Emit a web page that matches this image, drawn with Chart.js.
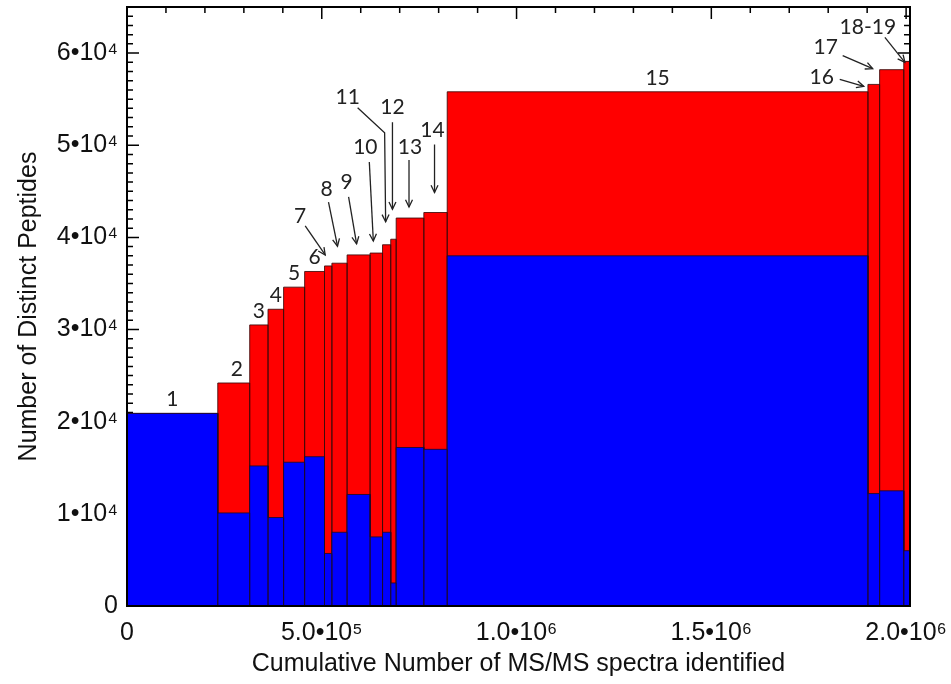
<!DOCTYPE html>
<html><head><meta charset="utf-8">
<script src="https://cdn.jsdelivr.net/npm/chart.js@4.4.0/dist/chart.umd.min.js"></script>
<style>html,body{margin:0;padding:0;background:#fff}#wrap{width:951px;height:684px}</style>
</head><body><div id="wrap"><canvas id="c" width="951" height="684"></canvas></div>
<script>
// ---- data ----
const barLabels = ['1','2','3','4','5','6','7','8','9','10','11','12','13','14','15','16','17','18-19'];
const binEdges = [0,233000,315000,362000,402000,456000,507000,526000,565000,624000,656000,677000,691000,762000,822000,1902000,1932000,1994000,2010000];
const cumulativePeptides = [20900,24200,30500,32200,34600,36300,36900,37200,38100,38300,39200,39800,42100,42700,55800,56600,58200,59100];
const bluePeptides = [20900,10100,15200,9600,15600,16200,5700,8000,12100,7500,8000,2500,17200,17000,38000,12200,12500,6000];
const xTickValues = [0,500000,1000000,1500000,2000000];
const yTickValues = [0,10000,20000,30000,40000,50000,60000];

// ---- annotation layout (pixel offsets relative to the top-centre of each bar) ----
const plainLabelBars = [0,1,2,3,4,5,14];
const arrowNotes = [
  {bar:6,  text:[-28,-50], tail:[-23,-40], tip:[-3,-11]},
  {bar:7,  text:[-13,-74], tail:[-11,-61], tip:[-2,-17]},
  {bar:8,  text:[-12,-73], tail:[-10,-58], tip:[-2,-11]},
  {bar:9,  text:[-11,-106], tail:[-7,-91], tip:[-3,-12]},
  {bar:10, text:[-39,-148], tail:[-29,-137], elbow:[-2,-112], tip:[-1,-23]},
  {bar:11, text:[-1,-132], tail:[-1,-117], tip:[-1,-30]},
  {bar:12, text:[0,-71], tail:[-1,-58], tip:[-1,-11]},
  {bar:13, text:[-3,-82], tail:[-1,-68], tip:[-1,-20]},
  {bar:15, text:[-52,-7], tail:[-34,-5], tip:[-10,2]},
  {bar:16, text:[-66,-22], tail:[-49,-14], tip:[-19,-1]},
  {bar:17, text:[-39,-34], tail:[-22,-24], tip:[-2,1]}
];

// ---- build stepped outlines from the arrays ----
const bluePts = [], redPts = [];
for (let i = 0; i < barLabels.length; i++) {
  const x0 = binEdges[i], x1 = binEdges[i+1], b = bluePeptides[i], t = cumulativePeptides[i];
  bluePts.push({x:x0,y:0},{x:x0,y:b},{x:x1,y:b},{x:x1,y:0});
  redPts.push({x:x0,y:b},{x:x0,y:t},{x:x1,y:t},{x:x1,y:b});
}

const sup = {4:'\u2074',5:'\u2075',6:'\u2076'};

const framePlugin = {
  id:'frame',
  beforeDatasetsDraw(chart){
    const {ctx, chartArea:a, scales:{x,y}} = chart;
    ctx.save();
    ctx.strokeStyle = '#000'; ctx.lineWidth = 1.5;
    ctx.beginPath();
    for (let v = 0; v <= 2000000; v += 100000) {
      const px = x.getPixelForValue(v), len = (v % 500000 === 0) ? 12 : 6;
      ctx.moveTo(px, a.bottom); ctx.lineTo(px, a.bottom - len);
      ctx.moveTo(px, a.top); ctx.lineTo(px, a.top + len);
    }
    for (let v = 0; v <= 65000; v += 1000) {
      const py = y.getPixelForValue(v), len = (v % 10000 === 0) ? 12 : 6;
      ctx.moveTo(a.left, py); ctx.lineTo(a.left + len, py);
      ctx.moveTo(a.right, py); ctx.lineTo(a.right - len, py);
    }
    ctx.stroke();
    ctx.restore();
  },
  afterDatasetsDraw(chart){
    const {ctx, chartArea:a, scales:{x,y}} = chart;
    ctx.save();
    ctx.strokeStyle = '#000'; ctx.lineWidth = 2;
    ctx.strokeRect(a.left, a.top, a.right - a.left, a.bottom - a.top);
    const anchor = i => [(x.getPixelForValue(binEdges[i]) + x.getPixelForValue(binEdges[i+1]))/2, y.getPixelForValue(cumulativePeptides[i])];
    ctx.fillStyle = '#222'; ctx.font = '21px Lato, "Open Sans", sans-serif';
    ctx.textAlign = 'center'; ctx.textBaseline = 'middle';
    plainLabelBars.forEach(i => { const [ax, ay] = anchor(i); ctx.fillText(barLabels[i], ax + (i===1?3:0), ay - 14); });
    ctx.strokeStyle = '#222'; ctx.lineWidth = 1.3;
    arrowNotes.forEach(n => {
      const [ax, ay] = anchor(n.bar);
      ctx.fillText(barLabels[n.bar], ax + n.text[0], ay + n.text[1]);
      const pts = [n.tail]; if (n.elbow) pts.push(n.elbow); pts.push(n.tip);
      ctx.beginPath();
      pts.forEach((p, k) => { const X = ax + p[0], Y = ay + p[1]; k ? ctx.lineTo(X, Y) : ctx.moveTo(X, Y); });
      ctx.stroke();
      const prev = pts[pts.length-2], tip = n.tip;
      const ang = Math.atan2(tip[1]-prev[1], tip[0]-prev[0]);
      const tx = ax + tip[0], ty = ay + tip[1], L = 8, s = 0.45;
      ctx.beginPath();
      ctx.moveTo(tx - L*Math.cos(ang - s), ty - L*Math.sin(ang - s));
      ctx.lineTo(tx, ty);
      ctx.lineTo(tx - L*Math.cos(ang + s), ty - L*Math.sin(ang + s));
      ctx.stroke();
    });
    ctx.restore();
  }
};

const axisFont = {family:'"Liberation Sans", Arial, sans-serif', size:25};
new Chart(document.getElementById('c'), {
  type:'line',
  data:{datasets:[
    {label:'blue', data:bluePts, fill:'origin', backgroundColor:'#0000ff', borderColor:'rgba(30,10,40,0.85)', borderWidth:1, pointRadius:0, tension:0, order:1},
    {label:'red', data:redPts, fill:'origin', backgroundColor:'#ff0000', borderColor:'rgba(60,10,10,0.85)', borderWidth:1, pointRadius:0, tension:0, order:2}
  ]},
  options:{
    responsive:false, animation:false, devicePixelRatio:1,
    layout:{padding:{left:12, right:41, top:7, bottom:3}},
    plugins:{legend:{display:false}, tooltip:{enabled:false}},
    scales:{
      x:{type:'linear', min:0, max:binEdges[binEdges.length-1],
        grid:{display:false, drawTicks:false}, border:{display:false},
        afterBuildTicks(s){ s.ticks = xTickValues.map(v => ({value:v})); },
        afterFit(s){ s.height = 684 - 3 - 606; s.paddingLeft = 0; s.paddingRight = 0; },
        ticks:{padding:12, color:'#111', font:axisFont, maxRotation:0, autoSkip:false,
          callback(v){ if (v === 0) return '0'; const e = Math.floor(Math.log10(v)); return (v/Math.pow(10,e)).toFixed(1) + '\u2022' + '10' + sup[e]; }},
        title:{display:true, text:'Cumulative Number of MS/MS spectra identified', color:'#111', font:axisFont, padding:{top:0,bottom:2}}
      },
      y:{min:0, max:65000,
        grid:{display:false, drawTicks:false}, border:{display:false},
        afterBuildTicks(s){ s.ticks = yTickValues.map(v => ({value:v})); },
        afterFit(s){ s.width = 127 - 12; s.paddingTop = 0; s.paddingBottom = 0; },
        ticks:{padding:9, color:'#111', font:axisFont,
          callback(v){ return v === 0 ? '0' : (v/10000) + '\u2022' + '10' + sup[4]; }},
        title:{display:true, text:'Number of Distinct Peptides', color:'#111', font:axisFont, padding:{top:2,bottom:0}}
      }
    }
  },
  plugins:[framePlugin]
});
</script></body></html>
